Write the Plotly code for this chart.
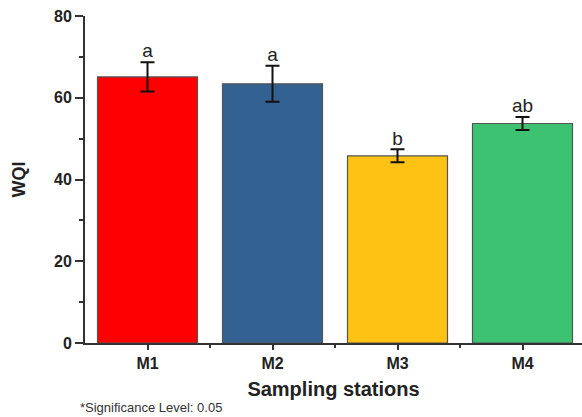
import plotly.graph_objects as go

stations = ["M1", "M2", "M3", "M4"]
wqi = [65.1, 63.4, 45.8, 53.7]
wqi_err = [3.6, 4.4, 1.6, 1.6]
sig_letters = ["a", "a", "b", "ab"]
bar_colors = ["#FF0000", "#336192", "#FEC214", "#3CC270"]
y_ticks = [0, 20, 40, 60, 80]

xpos = list(range(len(stations)))

fig = go.Figure()
fig.add_trace(go.Bar(
    x=xpos, y=wqi, width=0.8,
    marker=dict(color=bar_colors, line=dict(color="#555555", width=1.2)),
    error_y=dict(type="data", array=wqi_err, color="#111111", thickness=2, width=7),
    showlegend=False, hoverinfo="skip",
))
fig.add_trace(go.Scatter(
    x=xpos, y=[v + e for v, e in zip(wqi, wqi_err)],
    mode="text", text=sig_letters, textposition="top center",
    textfont=dict(family="Liberation Sans, Arial", size=19, color="#222222"),
    showlegend=False, hoverinfo="skip", cliponaxis=False,
))

axis_font = dict(family="Liberation Sans, Arial", size=16, color="#222222")
fig.update_layout(
    width=582, height=417,
    margin=dict(l=85, r=0, t=16, b=74),
    plot_bgcolor="white", paper_bgcolor="white",
    bargap=0.2,
    xaxis=dict(
        range=[-0.5, 3.476], tickvals=xpos,
        ticktext=[f"<b>{s}</b>" for s in stations],
        showline=True, linecolor="#333333", linewidth=2,
        ticks="outside", ticklen=5, tickwidth=2, tickcolor="#333333",
        minor=dict(tickvals=[0.5, 1.5, 2.5], ticks="outside", ticklen=3,
                   tickwidth=2, tickcolor="#333333"),
        showgrid=False, zeroline=False, tickfont=axis_font,
        title=dict(text="<b>Sampling stations</b>", standoff=11,
                   font=dict(family="Liberation Sans, Arial", size=20, color="#222222")),
    ),
    yaxis=dict(
        range=[0, 80], tickvals=y_ticks,
        ticktext=[f"<b>{t}</b>" for t in y_ticks],
        showline=True, linecolor="#333333", linewidth=2,
        ticks="outside", ticklen=8, tickwidth=2, tickcolor="#333333",
        minor=dict(dtick=10, tick0=0, ticks="outside", ticklen=4,
                   tickwidth=2, tickcolor="#333333", showgrid=False),
        showgrid=False, zeroline=False, tickfont=axis_font,
        title=dict(text="<b>WQI</b>", standoff=24,
                   font=dict(family="Liberation Sans, Arial", size=18, color="#222222")),
    ),
)
fig.add_annotation(
    text="*Significance Level: 0.05", xref="paper", yref="paper",
    x=-0.015, y=-0.198, xanchor="left", yanchor="middle", showarrow=False,
    font=dict(family="Liberation Sans, Arial", size=13, color="#333333"),
)
fig.write_html("out.html")
